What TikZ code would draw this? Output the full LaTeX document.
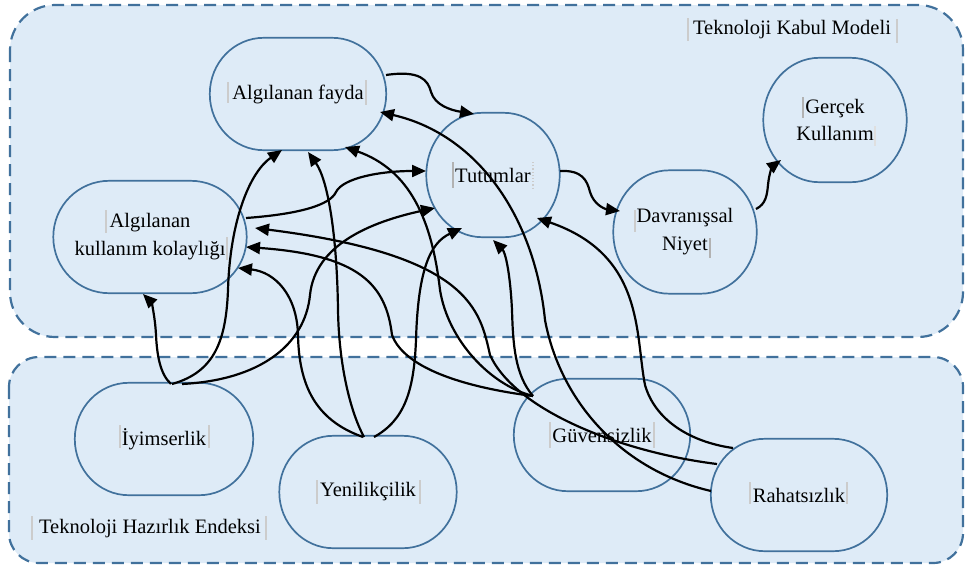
\documentclass[tikz,border=0pt]{standalone}
\usepackage{fontspec}
\setmainfont{Liberation Serif}
\usetikzlibrary{arrows.meta,calc}
\definecolor{boxfill}{RGB}{222,235,247}
\definecolor{boxline}{RGB}{65,113,156}
\pgfdeclarelayer{back}
\pgfdeclarelayer{mid}
\pgfsetlayers{back,mid,main}
\newcommand\blobshape[3]{%
  \path[blobline] ($(#1.north west)+(#2,0)$) -- ($(#1.north east)+(-#2,0)$)
   .. controls +(0.5523*#2,0) and +(0,-0.5523*#3) .. ($(#1.north east)+(0,#3)$)
   -- ($(#1.south east)+(0,-#3)$)
   .. controls +(0,0.5523*#3) and +(0.5523*#2,0) .. ($(#1.south east)+(-#2,0)$)
   -- ($(#1.south west)+(#2,0)$)
   .. controls +(-0.5523*#2,0) and +(0,0.5523*#3) .. ($(#1.south west)+(0,-#3)$)
   -- ($(#1.north west)+(0,#3)$)
   .. controls +(0,-0.5523*#3) and +(-0.5523*#2,0) .. ($(#1.north west)+(#2,0)$) -- cycle;}
\begin{document}
\begin{tikzpicture}[x=1pt,y=-1pt,
  cont/.style={draw=boxline, fill=boxfill, line width=2.2pt, dash pattern=on 12pt off 7pt},
  blob/.style={inner sep=0pt, align=center, font=\fontsize{20.5}{28}\selectfont},
  blobline/.style={draw=boxline, fill=boxfill, line width=1.7pt},
  lbl/.style={inner sep=0pt, font=\fontsize{20.5}{28}\selectfont},
  link/.style={line width=2.2pt, -{Triangle[length=14pt,width=12pt]}},
  bar/.style={draw=gray!40, line width=1.2pt}]
\useasboundingbox (0,0) rectangle (965,565);
% containers
\begin{pgfonlayer}{back}
\draw[cont, rounded corners=45pt] (10,5) rectangle (963,337);
\draw[cont, rounded corners=30pt] (9,357) rectangle (963,563);
\end{pgfonlayer}
\node[lbl] (tkm) at (792,30) {Teknoloji Kabul Modeli};
\node[lbl] (the) at (150,529) {Teknoloji Hazırlık Endeksi};
% nodes
\node[blob, minimum width=176pt, minimum height=112pt] (fayda) at (298,94) {Algılanan fayda};
\node[blob, minimum width=133pt, minimum height=124pt] (tutum) at (493,175) {Tutumlar};
\node[blob, minimum width=193pt, minimum height=112pt] (akk) at (150,237) {Algılanan\\kullanım kolaylığı};
\node[blob, minimum width=143pt, minimum height=123pt] (niyet) at (685,232) {Davranışsal\\Niyet};
\node[blob, minimum width=143pt, minimum height=124pt, font=\fontsize{20.5}{27}\selectfont] (gercek) at (835,120) {Gerçek\\Kullanım};
\node[blob, minimum width=178pt, minimum height=112pt] (iyim) at (164,439) {İyimserlik};
\node[blob, minimum width=177pt, minimum height=112pt] (yeni) at (368,492) {Yenilikçilik};
\node[blob, minimum width=176pt, minimum height=112pt] (guven) at (602,435) {Güvensizlik};
\node[blob, minimum width=176pt, minimum height=112pt] (rahat) at (799,495) {Rahatsızlık};
\begin{pgfonlayer}{mid}
\blobshape{fayda}{54}{56}
\blobshape{tutum}{56}{62}
\blobshape{akk}{56}{56}
\blobshape{niyet}{56}{61}
\blobshape{gercek}{56}{62}
\blobshape{iyim}{54}{56}
\blobshape{yeni}{54}{56}
\blobshape{guven}{54}{56}
\blobshape{rahat}{54}{56}
\end{pgfonlayer}
% text-box edge marks
\draw[bar] (688,18) -- (688,41);
\draw[bar] (897,19) -- (897,43);
\draw[bar] (32,516) -- (32,540);
\draw[bar] (266,516) -- (266,540);
\draw[bar] (228,82) -- (228,103);
\draw[bar] (366,80) -- (366,105);
\draw[bar, draw=gray!60] (453,162) -- (453,188);
\draw[bar, dotted] (533,162) -- (533,188);
\draw[bar] (106,210) -- (106,233);
\draw[bar] (227,237) -- (227,260);
\draw[bar] (635,210) -- (635,232);
\draw[bar, draw=gray!60] (710,238) -- (710,258);
\draw[bar, draw=gray!60] (803,97) -- (803,118);
\draw[bar, draw=gray!25] (875,126) -- (875,146);
\draw[bar] (120,425) -- (120,448);
\draw[bar] (209,425) -- (209,448);
\draw[bar] (317,480) -- (317,504);
\draw[bar] (420,480) -- (420,504);
\draw[bar] (550,422) -- (550,448);
\draw[bar] (654,422) -- (654,448);
\draw[bar] (750,482) -- (750,504);
\draw[bar] (847,482) -- (847,504);
% model connectors
\draw[link] ($(fayda)+(88,-19)$) .. controls (420,70) and (428,80) .. (431,92)
  .. controls (435,105) and (450,110) .. ($(tutum)+(-19,-61)$);
\draw[link] ($(tutum)+(67,-4)$) .. controls (582,170) and (587,180) .. (590,192)
  .. controls (594,205) and (605,209) .. ($(niyet)+(-65,-21)$);
\draw[link] ($(niyet)+(71,-23)$) .. controls (766,204) and (767,195) .. (768,185)
  .. controls (769,173) and (773,166) .. ($(gercek)+(-54,40)$);
\draw[link] ($(akk)+(96,-19)$) .. controls (300,214) and (330,205) .. (336,192)
  .. controls (343,178) and (380,171) .. ($(tutum)+(-67,-4)$);
% Iyimserlik
\draw[link] ($(iyim)+(7,-55)$) .. controls (160,374) and (157,355) .. (156,335)
  .. controls (155,315) and (151,302) .. ($(akk)+(-7,57)$);
\draw[link] ($(iyim)+(8,-55)$) .. controls (215,372) and (226,340) .. (228,290)
  .. controls (230,220) and (250,172) .. ($(fayda)+(-16,56)$);
\draw[link] ($(iyim)+(18,-55)$) .. controls (260,380) and (305,345) .. (310,295)
  .. controls (315,245) and (370,222) .. ($(tutum)+(-58,33)$);
% Yenilikcilik
\draw[link] ($(yeni)+(-5,-55)$) .. controls (315,420) and (299,385) .. (298,335)
  .. controls (297,295) and (275,272) .. ($(akk)+(88,31)$);
\draw[link] ($(yeni)+(-4,-55)$) .. controls (352,415) and (339,370) .. (338,310)
  .. controls (337,235) and (328,180) .. ($(fayda)+(10,58)$);
\draw[link] ($(yeni)+(6,-55)$) .. controls (405,420) and (414,390) .. (416,340)
  .. controls (418,270) and (430,243) .. ($(tutum)+(-31,53)$);
% Guvensizlik
\draw[link] ($(guven)+(-69,-39)$) .. controls (470,388) and (405,370) .. (392,335)
  .. controls (386,285) and (360,255) .. ($(akk)+(96,10)$);
\draw[link] ($(guven)+(-69,-39)$) .. controls (490,385) and (448,340) .. (440,290)
  .. controls (432,220) and (410,170) .. ($(fayda)+(47,53)$);
\draw[link] ($(guven)+(-69,-39)$) .. controls (515,375) and (513,345) .. (512,310)
  .. controls (510,270) and (505,252) .. ($(tutum)+(0,65)$);
% Rahatsizlik
\draw[link] ($(rahat)+(-66,-47)$) .. controls (690,442) and (655,420) .. (645,385)
  .. controls (635,335) and (645,255) .. ($(tutum)+(44,43)$);
\draw[link] ($(rahat)+(-82,-31)$) .. controls (620,452) and (515,410) .. (490,355)
  .. controls (480,310) and (470,255) .. ($(akk)+(105,-9)$);
\draw[link] ($(rahat)+(-88,-4)$) .. controls (620,470) and (560,400) .. (545,320)
  .. controls (535,220) and (480,135) .. ($(fayda)+(82,18)$);
\end{tikzpicture}
\end{document}
